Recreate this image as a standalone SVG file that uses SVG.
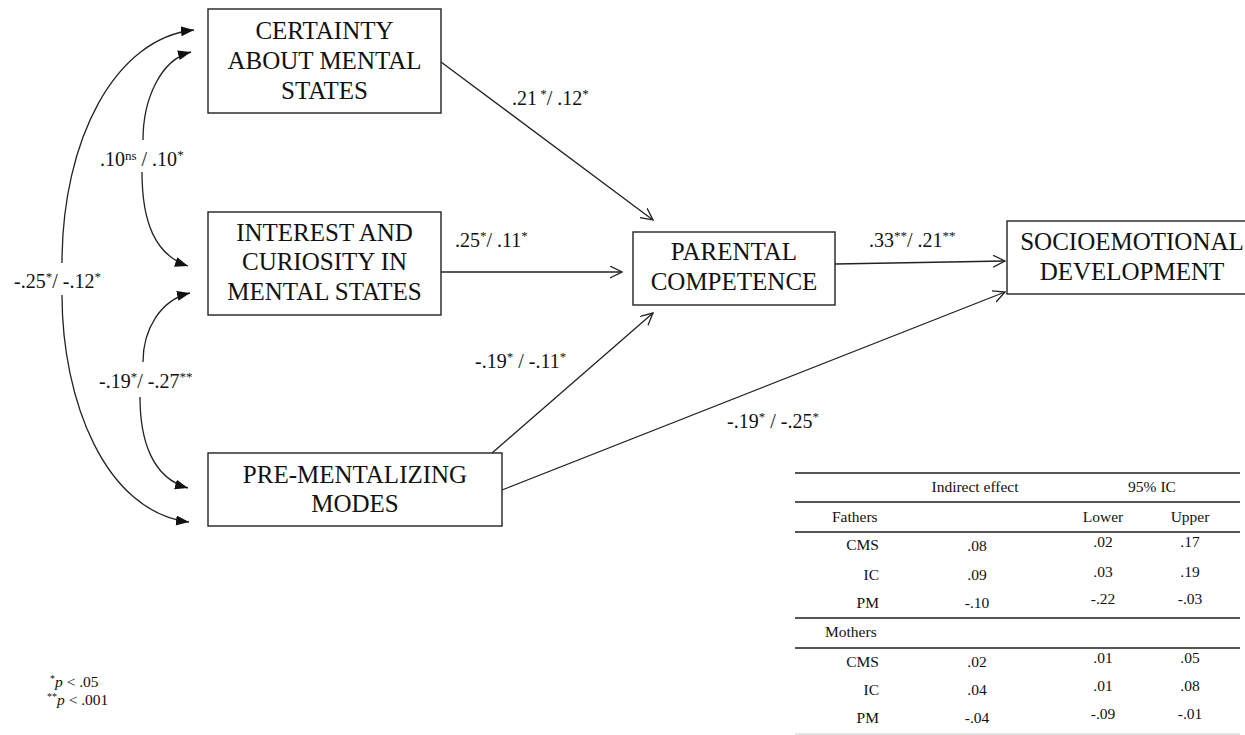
<svg xmlns="http://www.w3.org/2000/svg" width="1245" height="735" viewBox="0 0 1245 735">
<defs>
<style>
.box{fill:#fff;stroke:#222;stroke-width:1.4}
text{font-family:'Liberation Serif','Times New Roman',Times,'DejaVu Serif',serif;fill:#111}
.bt{font-size:25px;text-anchor:middle}
.lb{font-size:20px}
.sup{font-size:13px}
.con{fill:none;stroke:#222;stroke-width:1.3}
.tb{font-size:15.5px}
.rule2{stroke:#555;stroke-width:2.2}
</style>
<marker id="open" markerUnits="userSpaceOnUse" markerWidth="14" markerHeight="14" refX="12" refY="6" orient="auto">
<path d="M0,0 L12,6 L0,12" fill="none" stroke="#222" stroke-width="1.3"/>
</marker>
<marker id="fill" markerUnits="userSpaceOnUse" markerWidth="14" markerHeight="12" refX="13" refY="5" orient="auto-start-reverse">
<path d="M0,0 L13,5 L0,10 z" fill="#111"/>
</marker>
</defs>
<rect width="1245" height="735" fill="#fff"/>

<g id="connectors">
<path class="con" d="M441 62 L653 220" marker-end="url(#open)"/>
<path class="con" d="M441 272 L622 272" marker-end="url(#open)"/>
<path class="con" d="M835 264 L1005 261" marker-end="url(#open)"/>
<path class="con" d="M492 453 L653 313" marker-end="url(#open)"/>
<path class="con" d="M502 490 L1005 292" marker-end="url(#open)"/>
<path class="con" d="M194 30 C115 38, 62 140, 62 263" marker-start="url(#fill)"/>
<path class="con" d="M62 295 C62 400, 105 512, 189 522" marker-end="url(#fill)"/>
<path class="con" d="M191 52 C160 60, 143 100, 143 140" marker-start="url(#fill)"/>
<path class="con" d="M142 172 C142 222, 155 255, 188 266" marker-end="url(#fill)"/>
<path class="con" d="M190 293 C160 300, 143 330, 143 362" marker-start="url(#fill)"/>
<path class="con" d="M140 397 C140 440, 152 478, 188 488" marker-end="url(#fill)"/>
</g>

<g id="node-cms">
<rect class="box" x="208" y="9" width="233" height="104"/>
<text class="bt" x="324.5" y="39">CERTAINTY</text>
<text class="bt" x="324.5" y="69">ABOUT MENTAL</text>
<text class="bt" x="324.5" y="99">STATES</text>
</g>
<g id="node-ic">
<rect class="box" x="208" y="212" width="233" height="103"/>
<text class="bt" x="324.5" y="241">INTEREST AND</text>
<text class="bt" x="324.5" y="270">CURIOSITY IN</text>
<text class="bt" x="324.5" y="300">MENTAL STATES</text>
</g>
<g id="node-pm">
<rect class="box" x="208" y="453" width="294" height="73"/>
<text class="bt" x="355" y="483">PRE-MENTALIZING</text>
<text class="bt" x="355" y="512">MODES</text>
</g>
<g id="node-pc">
<rect class="box" x="633" y="232" width="202" height="73"/>
<text class="bt" x="734" y="260">PARENTAL</text>
<text class="bt" x="734" y="290">COMPETENCE</text>
</g>
<g id="node-sed">
<rect class="box" x="1007" y="221" width="250" height="73"/>
<text class="bt" x="1132" y="250">SOCIOEMOTIONAL</text>
<text class="bt" x="1132" y="280">DEVELOPMENT</text>
</g>

<g id="labels">
<text class="lb" x="512" y="105">.21<tspan class="sup" dy="-7"> *</tspan><tspan dy="7">/ .12</tspan><tspan class="sup" dy="-7">*</tspan></text>
<text class="lb" x="455" y="247">.25<tspan class="sup" dy="-7">*</tspan><tspan dy="7">/ .11</tspan><tspan class="sup" dy="-7">*</tspan></text>
<text class="lb" x="869" y="247">.33<tspan class="sup" dy="-7">**</tspan><tspan dy="7">/ .21</tspan><tspan class="sup" dy="-7">**</tspan></text>
<text class="lb" x="475" y="368">-.19<tspan class="sup" dy="-7">*</tspan><tspan dy="7"> / -.11</tspan><tspan class="sup" dy="-7">*</tspan></text>
<text class="lb" x="727" y="428">-.19<tspan class="sup" dy="-7">*</tspan><tspan dy="7"> / -.25</tspan><tspan class="sup" dy="-7">*</tspan></text>
<text class="lb" x="100" y="166">.10<tspan class="sup" dy="-6">ns</tspan><tspan dy="6"> / .10</tspan><tspan class="sup" dy="-7">*</tspan></text>
<text class="lb" x="14" y="288">-.25<tspan class="sup" dy="-7">*</tspan><tspan dy="7">/ -.12</tspan><tspan class="sup" dy="-7">*</tspan></text>
<text class="lb" x="99" y="388">-.19<tspan class="sup" dy="-7">*</tspan><tspan dy="7">/ -.27</tspan><tspan class="sup" dy="-7">**</tspan></text>
</g>

<g id="footnote">
<text class="tb" x="50" y="687" font-size="16"><tspan font-size="10" dy="-5">*</tspan><tspan dy="5" font-style="italic">p</tspan> &lt; .05</text>
<text class="tb" x="47" y="705" font-size="16"><tspan font-size="10" dy="-5">**</tspan><tspan dy="5" font-style="italic">p</tspan> &lt; .001</text>
</g>

<g id="table">
<line class="rule2" x1="795" y1="473" x2="1240" y2="473"/>
<line class="rule2" x1="795" y1="502" x2="1240" y2="502"/>
<line class="rule2" x1="795" y1="532" x2="1240" y2="532"/>
<line class="rule2" x1="795" y1="618" x2="1240" y2="618"/>
<line class="rule2" x1="795" y1="648" x2="1240" y2="648"/>
<line x1="795" y1="734" x2="1240" y2="734" stroke="#ddd" stroke-width="1.5"/>
<text class="tb" x="975" y="492" text-anchor="middle">Indirect effect</text>
<text class="tb" x="1152" y="492" text-anchor="middle">95% IC</text>
<text class="tb" x="832" y="522">Fathers</text>
<text class="tb" x="1103" y="522" text-anchor="middle">Lower</text>
<text class="tb" x="1190" y="522" text-anchor="middle">Upper</text>
<g text-anchor="end">
<text class="tb" x="879" y="550">CMS</text>
<text class="tb" x="879" y="580">IC</text>
<text class="tb" x="879" y="608">PM</text>
<text class="tb" x="879" y="667">CMS</text>
<text class="tb" x="879" y="695">IC</text>
<text class="tb" x="879" y="723">PM</text>
</g>
<text class="tb" x="825" y="637">Mothers</text>
<g text-anchor="middle">
<text class="tb" x="977" y="551">.08</text>
<text class="tb" x="977" y="580">.09</text>
<text class="tb" x="977" y="608">-.10</text>
<text class="tb" x="1103" y="547">.02</text>
<text class="tb" x="1103" y="577">.03</text>
<text class="tb" x="1103" y="604">-.22</text>
<text class="tb" x="1190" y="547">.17</text>
<text class="tb" x="1190" y="577">.19</text>
<text class="tb" x="1190" y="604">-.03</text>
<text class="tb" x="977" y="667">.02</text>
<text class="tb" x="977" y="695">.04</text>
<text class="tb" x="977" y="723">-.04</text>
<text class="tb" x="1103" y="663">.01</text>
<text class="tb" x="1103" y="691">.01</text>
<text class="tb" x="1103" y="719">-.09</text>
<text class="tb" x="1190" y="663">.05</text>
<text class="tb" x="1190" y="691">.08</text>
<text class="tb" x="1190" y="719">-.01</text>
</g>
</g>
</svg>
